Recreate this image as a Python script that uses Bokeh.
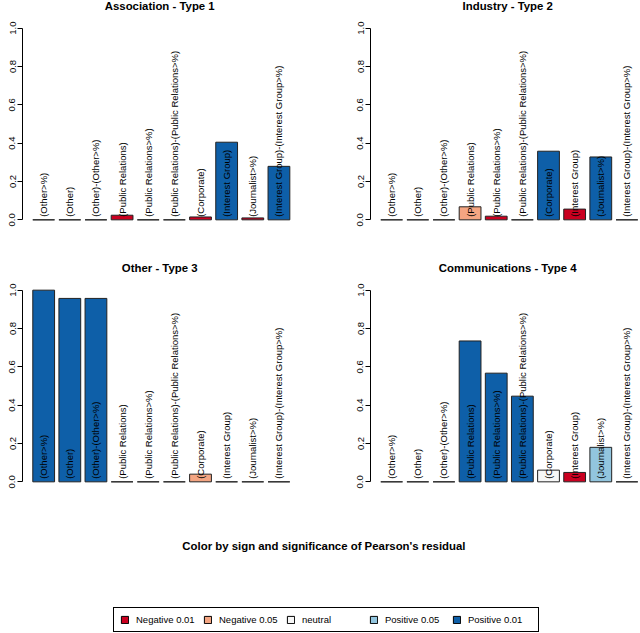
from math import pi
from bokeh.plotting import figure
from bokeh.models import (ColumnDataSource, Range1d, FixedTicker, PrintfTickFormatter,
                          Label, Legend, LegendItem)
from bokeh.layouts import column, row
from bokeh.embed import file_html
from bokeh.resources import INLINE
from bokeh.core.properties import value

# ---------------- data ----------------
categories = ["(Other>%)", "(Other)", "(Other)-(Other>%)", "(Public Relations)",
              "(Public Relations>%)", "(Public Relations)-(Public Relations>%)",
              "(Corporate)", "(Interest Group)", "(Journalist>%)",
              "(Interest Group)-(Interest Group>%)"]

titles = ["Association  - Type 1", "Industry  - Type 2",
          "Other  - Type 3", "Communications  - Type 4"]

assoc_values = [0, 0, 0, 0.024, 0, 0, 0.015, 0.405, 0.010, 0.279]
assoc_signif = ["neutral", "neutral", "neutral", "Negative 0.01", "neutral", "neutral",
                "Negative 0.01", "Positive 0.01", "Negative 0.01", "Positive 0.01"]

industry_values = [0, 0, 0, 0.068, 0.019, 0, 0.358, 0.056, 0.328, 0]
industry_signif = ["neutral", "neutral", "neutral", "Negative 0.05", "Negative 0.01", "neutral",
                   "Positive 0.01", "Negative 0.01", "Positive 0.01", "neutral"]

other_values = [1.0, 0.957, 0.957, 0, 0, 0, 0.040, 0, 0, 0]
other_signif = ["Positive 0.01", "Positive 0.01", "Positive 0.01", "neutral", "neutral", "neutral",
                "Negative 0.05", "neutral", "neutral", "neutral"]

comm_values = [0, 0, 0, 0.735, 0.567, 0.447, 0.061, 0.049, 0.180, 0]
comm_signif = ["neutral", "neutral", "neutral", "Positive 0.01", "Positive 0.01", "Positive 0.01",
               "neutral", "Negative 0.01", "Positive 0.05", "neutral"]

legend_labels = ["Negative 0.01", "Negative 0.05", "neutral", "Positive 0.05", "Positive 0.01"]
legend_colors = ["#CA0020", "#F4A582", "#F7F7F7", "#92C5DE", "#0E5FA8"]

y_ticks = [0.0, 0.2, 0.4, 0.6, 0.8, 1.0]
caption = "Color by sign and significance of Pearson's residual"

# ---------------- styling ----------------
FONT = "Liberation Sans"
color_of = dict(zip(legend_labels, legend_colors))
# barplot geometry: bar width 1, space 0.2 ; plot region spans -0.272 .. 12.472
X_START = -0.272
X_FULL_END = 12.472
UNIT_PX = 277.6 / (X_FULL_END - X_START)
TITLE_H = 20
H = 242
MB_BOTTOM = 35
Y0, Y1 = -0.04, 1.04
ML = 22


def panel(title, vals, sig, width, mb_right):
    frame_w = width - ML - mb_right
    x_end = X_START + frame_w / UNIT_PX

    # title strip: same horizontal frame as the panel below it
    t = figure(width=width, height=TITLE_H,
               x_range=Range1d(X_START, x_end), y_range=Range1d(0, TITLE_H),
               x_axis_location=None, y_axis_location=None, toolbar_location=None,
               output_backend="svg", min_border_left=ML, min_border_right=mb_right,
               min_border_top=0, min_border_bottom=0)
    t.outline_line_color = None
    t.grid.visible = False
    t.add_layout(Label(x=(X_START + X_FULL_END) / 2, y=TITLE_H - 5.5, text=title,
                       text_align="center", text_baseline="middle",
                       text_font=FONT, text_font_size="11.4px",
                       text_font_style="bold", text_color="black"))

    p = figure(width=width, height=H,
               x_range=Range1d(X_START, x_end), y_range=Range1d(Y0, Y1),
               x_axis_location=None, toolbar_location=None, output_backend="svg",
               min_border_left=ML, min_border_right=mb_right,
               min_border_top=0, min_border_bottom=MB_BOTTOM)
    p.outline_line_color = None
    p.grid.visible = False

    ax = p.yaxis[0]
    ax.ticker = FixedTicker(ticks=y_ticks)
    ax.formatter = PrintfTickFormatter(format="%.1f")
    ax.bounds = (0, 1)
    ax.major_label_orientation = "vertical"
    ax.major_label_text_font = FONT
    ax.major_label_text_font_size = "9.5px"
    ax.major_label_text_color = "black"
    ax.major_label_standoff = 2
    ax.major_tick_in = 0
    ax.major_tick_out = 5
    ax.minor_tick_line_color = None
    ax.axis_line_color = "black"
    ax.major_tick_line_color = "black"

    src = ColumnDataSource(dict(
        x=[0.7 + 1.2 * i for i in range(len(categories))],
        top=vals,
        color=[color_of[s] for s in sig],
        label=categories,
    ))
    p.vbar(x="x", top="top", bottom=0, width=1.0, source=src,
           fill_color="color", line_color="#222222", line_width=1)
    p.text(x="x", y=0, text="label", source=src, angle=pi / 2,
           text_align="left", text_baseline="middle", y_offset=-3,
           text_font=value(FONT), text_font_size=value("9.5px"), text_color="black")
    return column(t, p, spacing=0)


W1 = 348
W2 = 640 - W1
c1 = panel(titles[0], assoc_values, assoc_signif, W1, 48)
c2 = panel(titles[1], industry_values, industry_signif, W2, 0)
c3 = panel(titles[2], other_values, other_signif, W1, 48)
c4 = panel(titles[3], comm_values, comm_signif, W2, 0)

# ---------------- caption + legend ----------------
BH = 109
b = figure(width=640, height=BH, x_range=Range1d(0, 640), y_range=Range1d(0, BH),
           x_axis_location=None, y_axis_location=None, min_border=0,
           toolbar_location=None, output_backend="svg")
b.outline_line_color = None
b.grid.visible = False
b.add_layout(Label(x=323.4, y=BH - 21.7, text=caption, text_align="center",
                   text_baseline="middle", text_font=FONT, text_font_size="11.4px",
                   text_font_style="bold", text_color="black"))

items = []
for lab, col in zip(legend_labels, legend_colors):
    # one off-screen point so the legend swatch gets its colour
    r = b.vbar(x=[-1000], top=[-1000], bottom=-1001, width=1,
               fill_color=col, line_color="black", line_width=1)
    items.append(LegendItem(label=lab, renderers=[r]))
leg = Legend(items=items, orientation="horizontal", location=(113, 1),
             glyph_width=9, glyph_height=9, label_standoff=7, label_width=64,
             label_height=10, spacing=3, padding=6, margin=0,
             border_line_color="black", border_line_width=1, border_line_alpha=1,
             background_fill_color="white", background_fill_alpha=1,
             label_text_font=FONT, label_text_font_size="9.5px", label_text_color="black")
b.add_layout(leg)

layout = column(row(c1, c2, spacing=0), row(c3, c4, spacing=0), b, spacing=0)
open("out.html", "w").write(file_html(layout, INLINE))
